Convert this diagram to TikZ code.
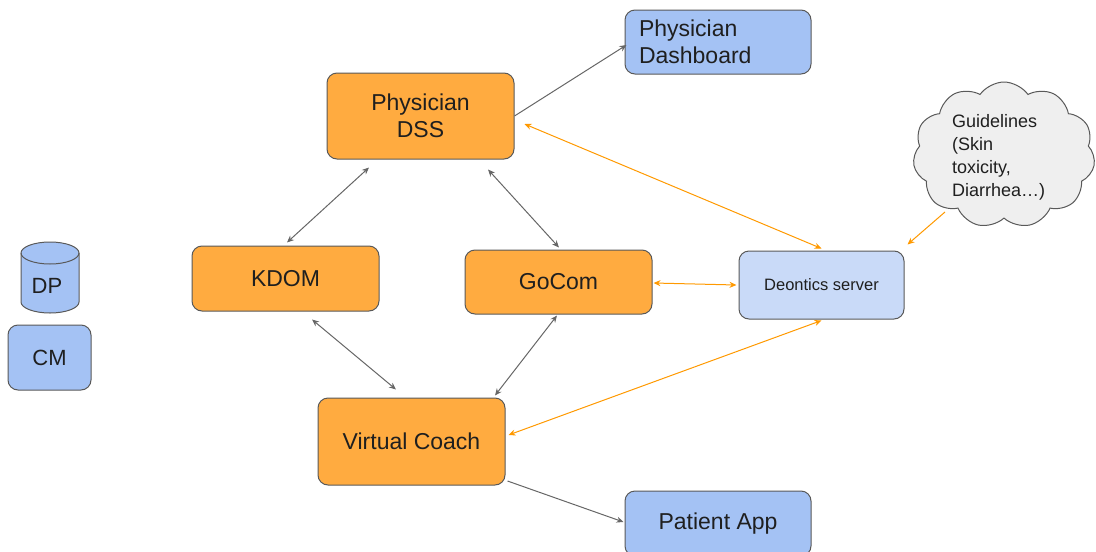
\documentclass[tikz,border=0pt]{standalone}
\usepackage{fontspec}
\setmainfont{Liberation Sans}
\usetikzlibrary{shapes.symbols,arrows.meta,calc}
\definecolor{orfill}{HTML}{FFAB40}
\definecolor{bluefill}{HTML}{A4C2F4}
\definecolor{lbluefill}{HTML}{C9DAF8}
\definecolor{bordc}{HTML}{595959}
\definecolor{arrg}{HTML}{666666}
\definecolor{arro}{HTML}{FF9900}
\definecolor{txtc}{HTML}{1F1F1F}
\definecolor{cloudfill}{HTML}{EFEFEF}
\tikzset{
  box/.style={draw=bordc, line width=1pt, rounded corners=10pt, text=txtc, inner sep=0pt,
     font=\fontsize{23}{27}\selectfont, align=center},
  orbox/.style={box, fill=orfill},
  bluebox/.style={box, fill=bluefill},
  garr/.style={draw=arrg, line width=1pt, -{Stealth[length=7pt,width=6pt]}},
  garrb/.style={draw=arrg, line width=1pt, {Stealth[length=7pt,width=6pt]}-{Stealth[length=7pt,width=6pt]}},
  oarr/.style={draw=arro, line width=1pt, -{Stealth[length=7pt,width=6pt]}},
  oarrb/.style={draw=arro, line width=1pt, {Stealth[length=7pt,width=6pt]}-{Stealth[length=7pt,width=6pt]}},
}
\begin{document}
\begin{tikzpicture}[x=1pt,y=-1pt]
\useasboundingbox (0,0) rectangle (1096,552);
% nodes
\node[orbox, minimum width=187pt, minimum height=86pt] (dss) at (420.5,116) {Physician\\DSS};
\node[bluebox, minimum width=186pt, minimum height=64pt, text width=158pt, align=left] (dash) at (718,42) {Physician\\Dashboard};
\node[orbox, minimum width=187pt, minimum height=65pt] (kdom) at (285.5,278.5) {KDOM};
\node[orbox, minimum width=187pt, minimum height=64pt] (gocom) at (558.5,282) {GoCom};
\node[box, fill=lbluefill, minimum width=165pt, minimum height=68pt, font=\fontsize{16.5}{20}\selectfont] (deon) at (821.5,285) {Deontics server};
\node[orbox, minimum width=187pt, minimum height=87pt] (vc) at (411.5,441.5) {Virtual Coach};
\node[bluebox, minimum width=186pt, minimum height=65pt] (app) at (718,523.5) {Patient App};
\node[bluebox, minimum width=83pt, minimum height=65pt, font=\fontsize{22}{26}\selectfont] (cm) at (49.5,357.5) {CM};
% DP cylinder
\path[fill=bluefill, draw=bordc, line width=1pt]
  (21,253) -- (21,302) arc[start angle=180, end angle=0, x radius=29, y radius=11] -- (79,253)
  arc[start angle=0, end angle=-180, x radius=29, y radius=11];
\draw[bordc, line width=1pt] (21,253) arc[start angle=180, end angle=0, x radius=29, y radius=11];
\node[text=txtc, font=\fontsize{22}{26}\selectfont, inner sep=0pt] (dp) at (47,286) {DP};
% cloud
\node[cloud, cloud puffs=11, cloud puff arc=110, draw=bordc, fill=cloudfill, line width=1pt,
  minimum width=182pt, minimum height=146pt, inner sep=0pt] (cloud) at (1004,155) {};
\node[text=txtc, align=left, font=\fontsize{18}{23}\selectfont, inner sep=0pt, anchor=west] (gl) at (952,157)
  {Guidelines\\(Skin\\toxicity,\\Diarrhea…)};
% gray connectors
\draw[garr] (dss.east) -- ($(dash.west)+(2,3)$);
\draw[garrb] ($(dss.south)+(-51.5,8)$) -- ($(kdom.north)+(1.5,-3)$);
\draw[garrb] ($(dss.south)+(67.5,10)$) -- ($(gocom.north)+(0.5,-2)$);
\draw[garrb] ($(kdom.south)+(26.5,8)$) -- ($(vc.north)+(-15.5,-8)$);
\draw[garrb] ($(gocom.south)+(-1.5,1)$) -- ($(vc.north)+(83.5,-2)$);
\draw[garr] ($(vc.east)+(2,39.5)$) -- ($(app.west)+(-1,-1.5)$);
% orange connectors
\draw[oarrb] ($(dss.east)+(10,8)$) -- ($(deon.north)+(0,-2)$);
\draw[oarrb] ($(gocom.east)+(1,1)$) -- ($(deon.west)+(-2,0)$);
\draw[oarrb] ($(deon.south)+(0,1)$) -- ($(vc.east)+(3,-6.5)$);
\draw[oarr] ($(cloud.center)+(-59,57)$) -- ($(deon.north east)+(3,-6)$);
\end{tikzpicture}
\end{document}
